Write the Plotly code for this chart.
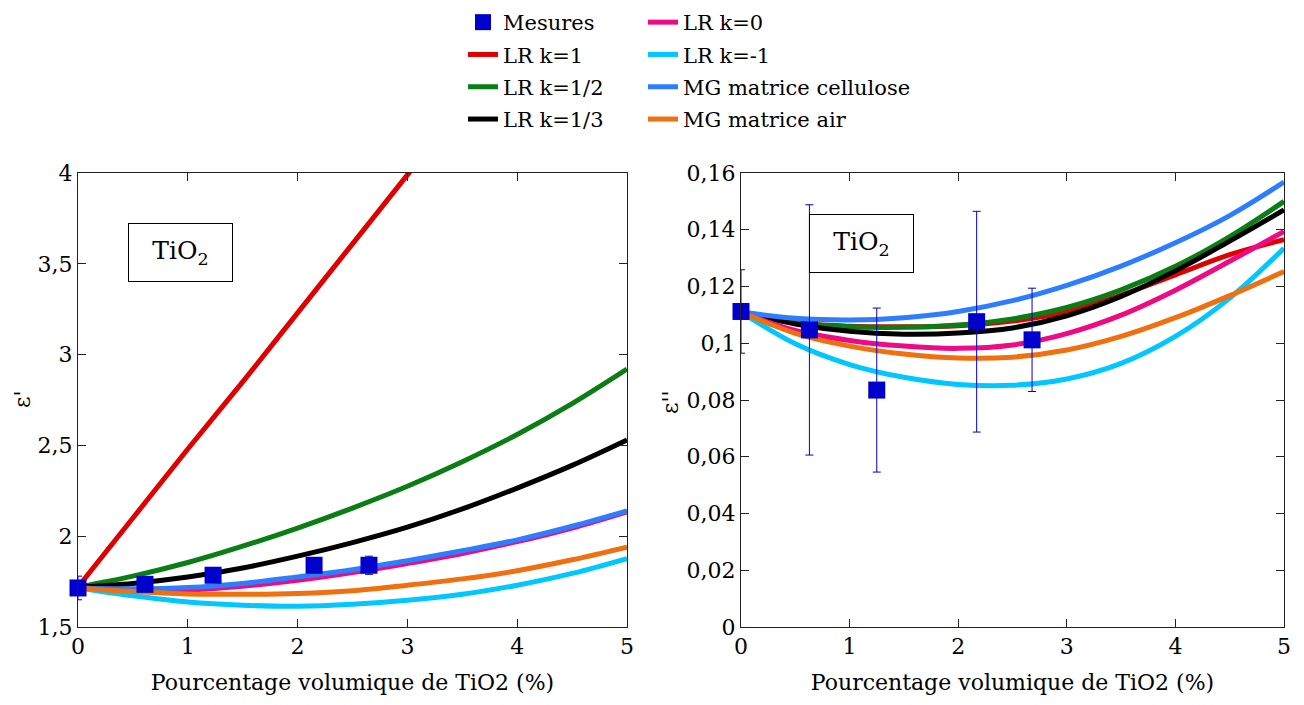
import plotly.graph_objects as go

# ---------------- data ----------------
x_meas = [0, 0.61, 1.23, 2.15, 2.65]
eps1_meas = [1.715, 1.735, 1.785, 1.84, 1.84]
eps1_err = [0.065, 0.02, 0.02, 0.02, 0.05]
x_meas_r = [0, 0.63, 1.25, 2.17, 2.68]
eps2_meas = [0.1112, 0.1047, 0.0835, 0.1076, 0.1012]
eps2_err = [0.0147, 0.0441, 0.0289, 0.0389, 0.0182]

x_curve = [0, 0.5, 1, 1.5, 2, 2.5, 3, 3.5, 4, 4.5, 5]

# epsilon' (left)
e1_k1 = [1.72, 2.10, 2.48, 2.85, 3.23, 3.61, 3.99, 4.37, 4.75, 5.12, 5.50]
e1_k12 = [1.72, 1.78, 1.855, 1.945, 2.045, 2.155, 2.275, 2.41, 2.56, 2.73, 2.92]
e1_k13 = [1.72, 1.74, 1.775, 1.825, 1.89, 1.965, 2.05, 2.15, 2.265, 2.39, 2.53]
e1_k0 = [1.715, 1.705, 1.705, 1.725, 1.757, 1.80, 1.85, 1.905, 1.97, 2.045, 2.134]
e1_km1 = [1.715, 1.672, 1.638, 1.62, 1.614, 1.625, 1.647, 1.68, 1.73, 1.795, 1.877]
e1_mgc = [1.715, 1.71, 1.717, 1.74, 1.776, 1.815, 1.865, 1.92, 1.98, 2.055, 2.14]
e1_mga = [1.715, 1.695, 1.682, 1.68, 1.685, 1.70, 1.73, 1.765, 1.81, 1.87, 1.94]

# epsilon'' (right)
e2_k1 = [0.111, 0.1072, 0.1060, 0.1058, 0.1062, 0.1078, 0.1112, 0.1170, 0.1241, 0.1312, 0.1365]
e2_k12 = [0.111, 0.1072, 0.1058, 0.1056, 0.1064, 0.1086, 0.1126, 0.1188, 0.1271, 0.1376, 0.1500]
e2_k13 = [0.111, 0.1068, 0.1042, 0.1032, 0.1036, 0.1054, 0.1097, 0.1165, 0.1255, 0.1360, 0.1470]
e2_k0 = [0.111, 0.1045, 0.1010, 0.0990, 0.0982, 0.0994, 0.1034, 0.1099, 0.1187, 0.1289, 0.1394]
e2_km1 = [0.111, 0.0998, 0.0925, 0.0880, 0.0855, 0.0852, 0.0874, 0.0929, 0.1024, 0.1159, 0.1335]
e2_mgc = [0.111, 0.1088, 0.1082, 0.1090, 0.1112, 0.1150, 0.1204, 0.1272, 0.1354, 0.1450, 0.1568]
e2_mga = [0.111, 0.1035, 0.0990, 0.0962, 0.0948, 0.0951, 0.0976, 0.1024, 0.1090, 0.1168, 0.1253]

names = ["LR k=1", "LR k=1/2", "LR k=1/3", "LR k=0", "LR k=-1",
         "MG matrice cellulose", "MG matrice air"]
colors = ["#E00000", "#0A7D14", "#000000", "#EE0A82", "#00C8FF",
          "#2D7DFF", "#F07010"]
legend_of = ["legend", "legend", "legend", "legend2", "legend2",
             "legend2", "legend2"]
rank_of = [2, 3, 4, 1, 2, 3, 4]
left_series = [e1_k1, e1_k12, e1_k13, e1_k0, e1_km1, e1_mgc, e1_mga]
right_series = [e2_k1, e2_k12, e2_k13, e2_k0, e2_km1, e2_mgc, e2_mga]

FONT = "DejaVu Serif"
MEAS_COLOR = "#0000CC"

fig = go.Figure()

for i, name in enumerate(names):
    fig.add_trace(go.Scatter(
        x=x_curve, y=left_series[i], mode="lines", name=name,
        line=dict(color=colors[i], width=5, shape="spline"),
        xaxis="x", yaxis="y", legend=legend_of[i], legendrank=rank_of[i],
        legendgroup=name, showlegend=True, hoverinfo="skip"))
    fig.add_trace(go.Scatter(
        x=x_curve, y=right_series[i], mode="lines", name=name,
        line=dict(color=colors[i], width=5, shape="spline"),
        xaxis="x2", yaxis="y2", legendgroup=name, showlegend=False,
        hoverinfo="skip"))

fig.add_trace(go.Scatter(
    x=x_meas, y=eps1_meas, mode="markers", name="Mesures",
    marker=dict(symbol="square", size=17, color=MEAS_COLOR),
    error_y=dict(type="data", array=eps1_err, color=MEAS_COLOR,
                 thickness=1, width=4),
    xaxis="x", yaxis="y", legend="legend", legendrank=1,
    legendgroup="Mesures", cliponaxis=False))
fig.add_trace(go.Scatter(
    x=x_meas_r, y=eps2_meas, mode="markers", name="Mesures",
    marker=dict(symbol="square", size=17, color=MEAS_COLOR),
    error_y=dict(type="data", array=eps2_err, color=MEAS_COLOR,
                 thickness=1, width=4),
    xaxis="x2", yaxis="y2", legendgroup="Mesures", showlegend=False,
    cliponaxis=False))

W, H = 1304, 705
# the page adds an 8 px offset, so positions below are reference - 8
ML, MR, MT, MB = 70, 28, 165, 86
PW = W - ML - MR
PH = H - MT - MB

axis_common = dict(
    showline=True, linecolor="#222222", linewidth=1, mirror="ticks",
    ticks="inside", ticklen=8, tickcolor="#222222", tickwidth=1,
    showgrid=False, zeroline=False,
    tickfont=dict(family=FONT, size=22, color="black"),
)

legend_common = dict(
    font=dict(family=FONT, size=21),
    bgcolor="rgba(0,0,0,0)", traceorder="grouped", tracegroupgap=2,
    orientation="v", yanchor="top", xanchor="left",
    xref="container", yref="paper",
)

title_font = dict(family=FONT, size=22, color="black")
leg_y = (PH + MT + 6) / PH

def px_to_paper_x(px):
    return (px - ML) / PW

def px_to_paper_y(py):
    return (H - MB - py) / PH

fig.update_layout(
    width=W, height=H,
    margin=dict(l=ML, r=MR, t=MT, b=MB, autoexpand=False),
    paper_bgcolor="white", plot_bgcolor="white",
    separators=", ",
    font=dict(family=FONT, color="black", size=21),
    xaxis=dict(domain=[0, 549 / PW], range=[0, 5], dtick=1,
               title=dict(text="Pourcentage volumique de TiO2 (%)",
                          font=title_font, standoff=16),
               anchor="y", **axis_common),
    yaxis=dict(domain=[0, 1], range=[1.5, 4], dtick=0.5,
               anchor="x", **axis_common),
    xaxis2=dict(domain=[(733 - ML) / PW, 1], range=[0, 5], dtick=1,
                title=dict(text="Pourcentage volumique de TiO2 (%)",
                           font=title_font, standoff=16),
                anchor="y2", **axis_common),
    yaxis2=dict(domain=[0, 1], range=[0, 0.16], dtick=0.02,
                anchor="x2", **axis_common),
    legend=dict(x=455 / W, y=leg_y, **legend_common),
    legend2=dict(x=635 / W, y=leg_y, **legend_common),
    annotations=[
        dict(text="ε'", xref="paper", yref="paper",
             x=px_to_paper_x(14), y=px_to_paper_y(392), textangle=-90,
             xanchor="center", yanchor="middle",
             showarrow=False, font=title_font),
        dict(text="ε''", xref="paper", yref="paper",
             x=px_to_paper_x(662), y=px_to_paper_y(394), textangle=-90,
             xanchor="center", yanchor="middle",
             showarrow=False, font=title_font),
        dict(text="TiO<sub>2</sub>", xref="x", yref="y", x=0.93, y=3.565,
             showarrow=False, font=dict(family=FONT, size=25, color="black"),
             bordercolor="black", borderwidth=1, borderpad=0,
             width=103, height=57, bgcolor="white"),
        dict(text="TiO<sub>2</sub>", xref="x2", yref="y2", x=1.11, y=0.135,
             showarrow=False, font=dict(family=FONT, size=25, color="black"),
             bordercolor="black", borderwidth=1, borderpad=0,
             width=103, height=57, bgcolor="white"),
    ],
)

fig.write_html("out.html")
